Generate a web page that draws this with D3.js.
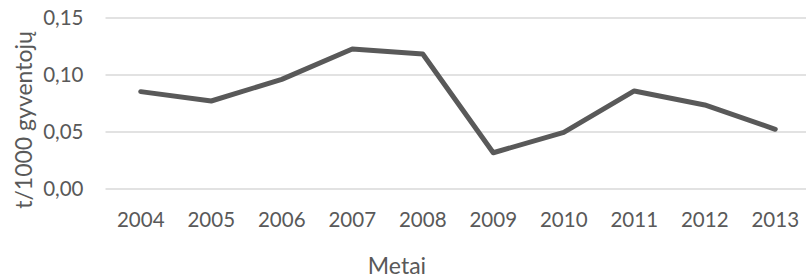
<!DOCTYPE html>
<html>
<head>
<meta charset="utf-8">
<script src="https://cdn.jsdelivr.net/npm/d3@7"></script>
<style>
  body { margin: 0; background: #fff; }
  svg { display: block; }
</style>
</head>
<body>
<div id="chart"></div>
<script>
var years = ["2004", "2005", "2006", "2007", "2008", "2009", "2010", "2011", "2012", "2013"];
var values = [0.0854, 0.0772, 0.0962, 0.1228, 0.1184, 0.0318, 0.0497, 0.0860, 0.0737, 0.0524];
var yTicks = [0, 0.05, 0.10, 0.15];

var width = 806,
    height = 277,
    margin = {top: 18, right: 0, bottom: 88, left: 105.5},
    innerWidth = width - margin.left - margin.right,
    innerHeight = height - margin.top - margin.bottom,
    bandStep = 70.5; // plot area runs a little past the right edge in the original

var font = "Lato, 'Open Sans', sans-serif",
    textColor = "#595959";

var svg = d3.select("#chart").append("svg")
    .attr("width", width)
    .attr("height", height)
    .attr("font-family", font);

var g = svg.append("g")
    .attr("transform", "translate(" + margin.left + "," + margin.top + ")");

var x = d3.scaleBand().domain(years).range([0, bandStep * years.length]),
    y = d3.scaleLinear().domain([0, 0.15]).range([innerHeight, 0]);

var fmt = function(d) { return d3.format(".2f")(d).replace(".", ","); };

// gridlines
g.selectAll(".grid")
    .data(yTicks)
    .enter().append("line")
    .attr("class", "grid")
    .attr("x1", 0)
    .attr("x2", innerWidth)
    .attr("y1", function(d) { return y(d); })
    .attr("y2", function(d) { return y(d); })
    .attr("stroke", "#d9d9d9")
    .attr("stroke-width", 1.3);

// y labels
g.selectAll(".ylab")
    .data(yTicks)
    .enter().append("text")
    .attr("class", "ylab")
    .attr("x", -22)
    .attr("y", function(d) { return y(d) + 7; })
    .attr("text-anchor", "end")
    .attr("font-size", 20.5)
    .attr("fill", textColor)
    .text(fmt);

// x labels
g.selectAll(".xlab")
    .data(years)
    .enter().append("text")
    .attr("class", "xlab")
    .attr("x", function(d) { return x(d) + x.bandwidth() / 2; })
    .attr("y", innerHeight + 38)
    .attr("text-anchor", "middle")
    .attr("font-size", 20.5)
    .attr("fill", textColor)
    .text(function(d) { return d; });

// the line
var line = d3.line()
    .x(function(d, i) { return x(years[i]) + x.bandwidth() / 2; })
    .y(function(d) { return y(d); });

g.append("path")
    .datum(values)
    .attr("fill", "none")
    .attr("stroke", "#595959")
    .attr("stroke-width", 5)
    .attr("stroke-linejoin", "round")
    .attr("stroke-linecap", "round")
    .attr("d", line);

// axis titles
svg.append("text")
    .attr("x", 397)
    .attr("y", 274)
    .attr("text-anchor", "middle")
    .attr("font-size", 23)
    .attr("fill", textColor)
    .text("Metai");

svg.append("text")
    .attr("transform", "translate(32,120) rotate(-90)")
    .attr("text-anchor", "middle")
    .attr("font-size", 23)
    .attr("fill", textColor)
    .text("t/1000 gyventojų");
</script>
</body>
</html>
